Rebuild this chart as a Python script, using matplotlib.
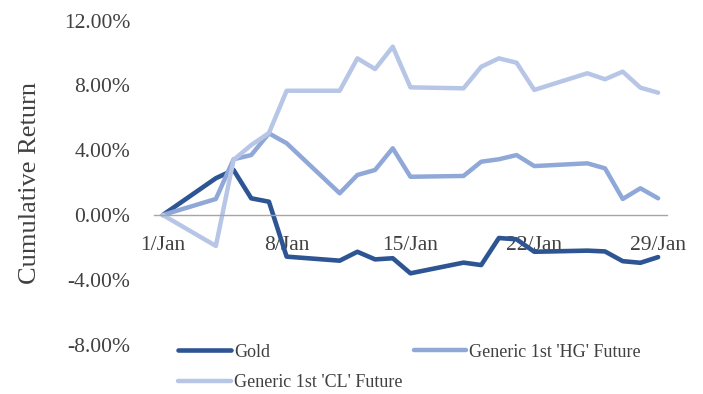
import matplotlib.pyplot as plt

plt.rcParams['font.family'] = ['Liberation Serif', 'DejaVu Serif']

# trading days in January (day of month)
days = [1, 4, 5, 6, 7, 8, 11, 12, 13, 14, 15, 18, 19, 20, 21, 22, 25, 26, 27, 28, 29]

# cumulative returns in percent
gold = [0.0, 2.27, 2.78, 1.03, 0.82, -2.57, -2.82, -2.27, -2.74, -2.67, -3.6,
        -2.94, -3.09, -1.42, -1.5, -2.27, -2.2, -2.25, -2.85, -2.95, -2.6]
hg = [0.0, 0.99, 3.44, 3.70, 5.04, 4.43, 1.34, 2.47, 2.78, 4.12, 2.36,
      2.41, 3.29, 3.44, 3.70, 3.02, 3.19, 2.88, 0.99, 1.65, 1.03]
cl = [0.0, -1.91, 3.40, 4.32, 5.06, 7.67, 7.67, 9.67, 9.01, 10.39, 7.88,
      7.82, 9.15, 9.67, 9.40, 7.72, 8.75, 8.38, 8.85, 7.86, 7.55]

xtick_days = [1, 8, 15, 22, 29]
xtick_labels = ["1/Jan", "8/Jan", "15/Jan", "22/Jan", "29/Jan"]
yticks = [-8, -4, 0, 4, 8, 12]

fig = plt.figure(figsize=(7.03, 3.94), dpi=100)
ax = fig.add_axes([0.219, 0.1254, 0.7297, 0.8223])

l_gold, = ax.plot(days, gold, color='#2E5593', lw=3.3, solid_capstyle='round',
                  solid_joinstyle='round', label='Gold')
l_hg, = ax.plot(days, hg, color='#8FA8D8', lw=3.2, solid_capstyle='round',
                solid_joinstyle='round', label="Generic 1st 'HG' Future")
l_cl, = ax.plot(days, cl, color='#B7C6E6', lw=3.2, solid_capstyle='round',
                solid_joinstyle='round', label="Generic 1st 'CL' Future")

# zero line as the x axis (do this before ticks, it resets them)
for s in ['top', 'right', 'left']:
    ax.spines[s].set_visible(False)
ax.spines['bottom'].set_position(('data', 0))
ax.spines['bottom'].set_color('#A6A6A6')
ax.spines['bottom'].set_linewidth(1.0)

ax.set_xlim(0.5, 29.5)
ax.set_ylim(-8, 12)
ax.set_yticks(yticks)
ax.set_yticklabels([f"{v:.2f}%" for v in yticks])
ax.set_xticks(xtick_days)
ax.set_xticklabels(xtick_labels)
ax.tick_params(axis='x', length=0, pad=15, labelsize=15.5, labelcolor='#404040')
ax.tick_params(axis='y', length=0, pad=17, labelsize=15.5, labelcolor='#404040')

ax.set_ylabel('Cumulative Return', fontsize=19, color='#404040')
ax.yaxis.label.set_verticalalignment('center')
ax.yaxis.set_label_coords(-0.242, 0.5)

# reorder so the legend fills row by row
fig.legend(handles=[l_gold, l_cl, l_hg], ncol=2, frameon=False, fontsize=13,
           loc='upper left', bbox_to_anchor=(0.2535, 0.128), handlelength=2.9,
           handletextpad=0.2, columnspacing=0.6, labelspacing=0.75,
           borderaxespad=0, borderpad=0, labelcolor='#404040')

fig.savefig('out.png', dpi=100)
